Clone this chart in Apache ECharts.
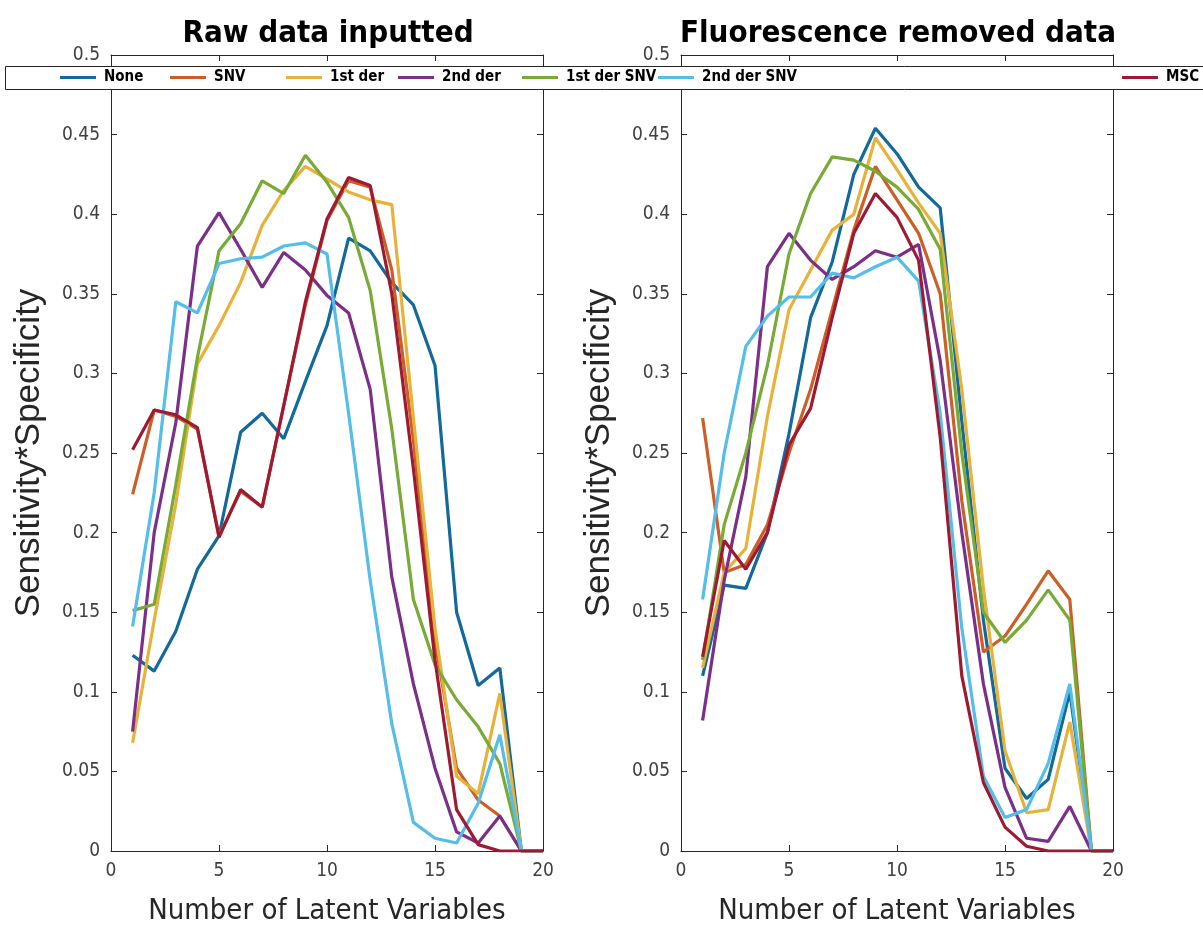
<!DOCTYPE html>
<html>
<head>
<meta charset="utf-8">
<script src="https://cdn.jsdelivr.net/npm/echarts@6/dist/echarts.min.js"></script>
<style>
  html, body { margin: 0; padding: 0; background: #ffffff; }
  #chart { width: 1203px; height: 929px; }
</style>
</head>
<body>
<div id="chart"></div>
<script>
// Number of latent variables (x values shared by every curve)
const latentVariables = [1, 2, 3, 4, 5, 6, 7, 8, 9, 10, 11, 12, 13, 14, 15, 16, 17, 18, 19, 20];

const seriesNames = ['None', 'SNV', '1st der', '2nd der', '1st der SNV', '2nd der SNV', 'MSC'];
const seriesColors = ['#12699a', '#cc5f28', '#e8b23a', '#7b2f88', '#78aa36', '#55bde8', '#9e1a32'];

// Panel 1: raw data inputted
const rawNone      = [0.123, 0.113, 0.138, 0.177, 0.198, 0.263, 0.275, 0.259, 0.295, 0.330, 0.385, 0.377, 0.357, 0.343, 0.305, 0.150, 0.104, 0.115, 0, 0];
const rawSNV       = [0.224, 0.277, 0.273, 0.265, 0.198, 0.226, 0.216, 0.280, 0.343, 0.396, 0.421, 0.417, 0.365, 0.258, 0.132, 0.052, 0.032, 0.022, 0, 0];
const raw1stDer    = [0.068, 0.145, 0.218, 0.306, 0.330, 0.357, 0.393, 0.415, 0.430, 0.422, 0.414, 0.409, 0.406, 0.272, 0.140, 0.047, 0.036, 0.099, 0, 0];
const raw2ndDer    = [0.075, 0.200, 0.269, 0.380, 0.401, 0.378, 0.354, 0.376, 0.365, 0.349, 0.338, 0.290, 0.172, 0.105, 0.052, 0.012, 0.005, 0.022, 0, 0];
const raw1stDerSNV = [0.151, 0.155, 0.230, 0.310, 0.377, 0.394, 0.421, 0.413, 0.437, 0.420, 0.398, 0.352, 0.265, 0.158, 0.117, 0.095, 0.078, 0.055, 0, 0];
const raw2ndDerSNV = [0.141, 0.225, 0.345, 0.338, 0.369, 0.372, 0.373, 0.380, 0.382, 0.375, 0.275, 0.170, 0.080, 0.018, 0.008, 0.005, 0.030, 0.073, 0, 0];
const rawMSC       = [0.252, 0.277, 0.274, 0.266, 0.197, 0.227, 0.216, 0.280, 0.345, 0.397, 0.423, 0.418, 0.350, 0.240, 0.120, 0.026, 0.004, 0, 0, 0];

// Panel 2: fluorescence removed data
const flNone       = [0.110, 0.167, 0.165, 0.200, 0.262, 0.335, 0.370, 0.425, 0.454, 0.438, 0.417, 0.404, 0.270, 0.145, 0.052, 0.033, 0.045, 0.100, 0, 0];
const flSNV        = [0.272, 0.175, 0.180, 0.205, 0.250, 0.290, 0.340, 0.390, 0.430, 0.409, 0.388, 0.350, 0.220, 0.125, 0.135, 0.155, 0.176, 0.158, 0, 0];
const fl1stDer     = [0.115, 0.175, 0.190, 0.273, 0.340, 0.365, 0.390, 0.400, 0.448, 0.428, 0.407, 0.388, 0.290, 0.165, 0.063, 0.024, 0.026, 0.081, 0, 0];
const fl2ndDer     = [0.082, 0.170, 0.235, 0.367, 0.388, 0.371, 0.359, 0.367, 0.377, 0.373, 0.381, 0.308, 0.200, 0.105, 0.040, 0.008, 0.006, 0.028, 0, 0];
const fl1stDerSNV  = [0.120, 0.205, 0.250, 0.305, 0.375, 0.413, 0.436, 0.434, 0.427, 0.417, 0.403, 0.378, 0.250, 0.150, 0.131, 0.145, 0.164, 0.145, 0, 0];
const fl2ndDerSNV  = [0.158, 0.250, 0.317, 0.336, 0.348, 0.348, 0.363, 0.360, 0.367, 0.373, 0.358, 0.275, 0.140, 0.047, 0.021, 0.026, 0.055, 0.105, 0, 0];
const flMSC        = [0.122, 0.195, 0.177, 0.200, 0.255, 0.278, 0.335, 0.388, 0.413, 0.398, 0.371, 0.260, 0.110, 0.043, 0.015, 0.003, 0, 0, 0, 0];

// Axis ticks
const xTicks = [0, 5, 10, 15, 20];
const yTicks = [0, 0.05, 0.1, 0.15, 0.2, 0.25, 0.3, 0.35, 0.4, 0.45, 0.5];

const panelTitles = ['Raw data inputted', 'Fluorescence removed data'];
const xAxisName = 'Number of Latent Variables';
const yAxisName = 'Sensitivity*Specificity';

const rawSets = [rawNone, rawSNV, raw1stDer, raw2ndDer, raw1stDerSNV, raw2ndDerSNV, rawMSC];
const flSets  = [flNone, flSNV, fl1stDer, fl2ndDer, fl1stDerSNV, fl2ndDerSNV, flMSC];

// ---- layout and styling ----
const NARROW = "'Liberation Sans Narrow', 'Arial Narrow', 'DejaVu Sans Condensed', 'Liberation Sans', sans-serif";
const REGULAR = "'Liberation Sans', Arial, sans-serif";
const AXIS_COLOR = '#262626';
const TICK_TEXT = '#404040';

const panels = [
  { left: 111, top: 55, width: 432, height: 796, sets: rawSets, title: panelTitles[0] },
  { left: 681, top: 55, width: 432, height: 796, sets: flSets, title: panelTitles[1] }
];

const xStep = xTicks[1] - xTicks[0];
const yStep = yTicks[1] - yTicks[0];
const fmt = v => String(parseFloat(v.toFixed(2)));

const grids = [], xAxes = [], yAxes = [], series = [], titles = [];

panels.forEach((p, pi) => {
  grids.push({
    left: p.left, top: p.top, width: p.width, height: p.height,
    containLabel: false, outerBoundsMode: 'none'
  });
  const lineStyle = { lineStyle: { color: AXIS_COLOR, width: 1 } };
  // bottom / top x axes
  xAxes.push({
    type: 'value', gridIndex: pi, position: 'bottom',
    min: xTicks[0], max: xTicks[xTicks.length - 1], interval: xStep,
    name: xAxisName, nameLocation: 'middle', nameGap: 46,
    nameTextStyle: { fontFamily: NARROW, fontSize: 29, color: AXIS_COLOR },
    axisLine: Object.assign({ show: true, onZero: false }, lineStyle),
    axisTick: Object.assign({ show: true, inside: true, length: 6 }, lineStyle),
    axisLabel: { fontFamily: NARROW, fontSize: 19, color: TICK_TEXT, margin: 11, formatter: fmt },
    splitLine: { show: false }
  });
  xAxes.push({
    type: 'value', gridIndex: pi, position: 'top',
    min: xTicks[0], max: xTicks[xTicks.length - 1], interval: xStep,
    axisLine: Object.assign({ show: true, onZero: false }, lineStyle),
    axisTick: Object.assign({ show: true, inside: true, length: 6 }, lineStyle),
    axisLabel: { show: false }, splitLine: { show: false }
  });
  // left / right y axes
  yAxes.push({
    type: 'value', gridIndex: pi, position: 'left',
    min: yTicks[0], max: yTicks[yTicks.length - 1], interval: yStep,
    name: yAxisName, nameLocation: 'middle', nameGap: 64, nameRotate: 90,
    nameTextStyle: { fontFamily: REGULAR, fontSize: 35, color: AXIS_COLOR },
    axisLine: Object.assign({ show: true, onZero: false }, lineStyle),
    axisTick: Object.assign({ show: true, inside: true, length: 6 }, lineStyle),
    axisLabel: { fontFamily: NARROW, fontSize: 19, color: TICK_TEXT, margin: 11, formatter: fmt },
    splitLine: { show: false }
  });
  yAxes.push({
    type: 'value', gridIndex: pi, position: 'right',
    min: yTicks[0], max: yTicks[yTicks.length - 1], interval: yStep,
    axisLine: Object.assign({ show: true, onZero: false }, lineStyle),
    axisTick: Object.assign({ show: true, inside: true, length: 6 }, lineStyle),
    axisLabel: { show: false }, splitLine: { show: false }
  });

  titles.push({
    text: p.title, left: p.left + p.width / 2 - 4, top: 13, textAlign: 'center',
    textStyle: { fontFamily: NARROW, fontWeight: 'bold', fontSize: 31, color: '#000' }
  });

  p.sets.forEach((vals, si) => {
    series.push({
      type: 'line', name: seriesNames[si],
      xAxisIndex: pi * 2, yAxisIndex: pi * 2,
      data: latentVariables.map((x, k) => [x, vals[k]]),
      symbol: 'none', showSymbol: false,
      lineStyle: { width: 3.2, color: seriesColors[si] },
      itemStyle: { color: seriesColors[si] },
      z: 2
    });
  });
});

// one legend entry per slot along the legend strip
const legendSlots = [60, 170, 286, 398, 522, 658, 1122];
const legends = seriesNames.map((n, i) => ({
  data: [n], left: legendSlots[i], top: 70, orient: 'horizontal',
  icon: 'rect', itemWidth: 36, itemHeight: 3, padding: 0, z: 10,
  selectedMode: false,
  textStyle: { fontFamily: NARROW, fontWeight: 'bold', fontSize: 15, color: '#000', padding: [0, 0, 0, 3] }
}));

const chart = echarts.init(document.getElementById('chart'), null, { renderer: 'canvas' });
chart.setOption({
  backgroundColor: '#ffffff',
  animation: false,
  title: titles,
  grid: grids,
  xAxis: xAxes,
  yAxis: yAxes,
  legend: legends,
  graphic: {
    elements: [{
      type: 'rect', left: 5, top: 66, z: 5,
      shape: { width: 1215, height: 23 },
      style: { fill: '#ffffff', stroke: AXIS_COLOR, lineWidth: 1 }
    }]
  },
  series: series
});
</script>
</body>
</html>
